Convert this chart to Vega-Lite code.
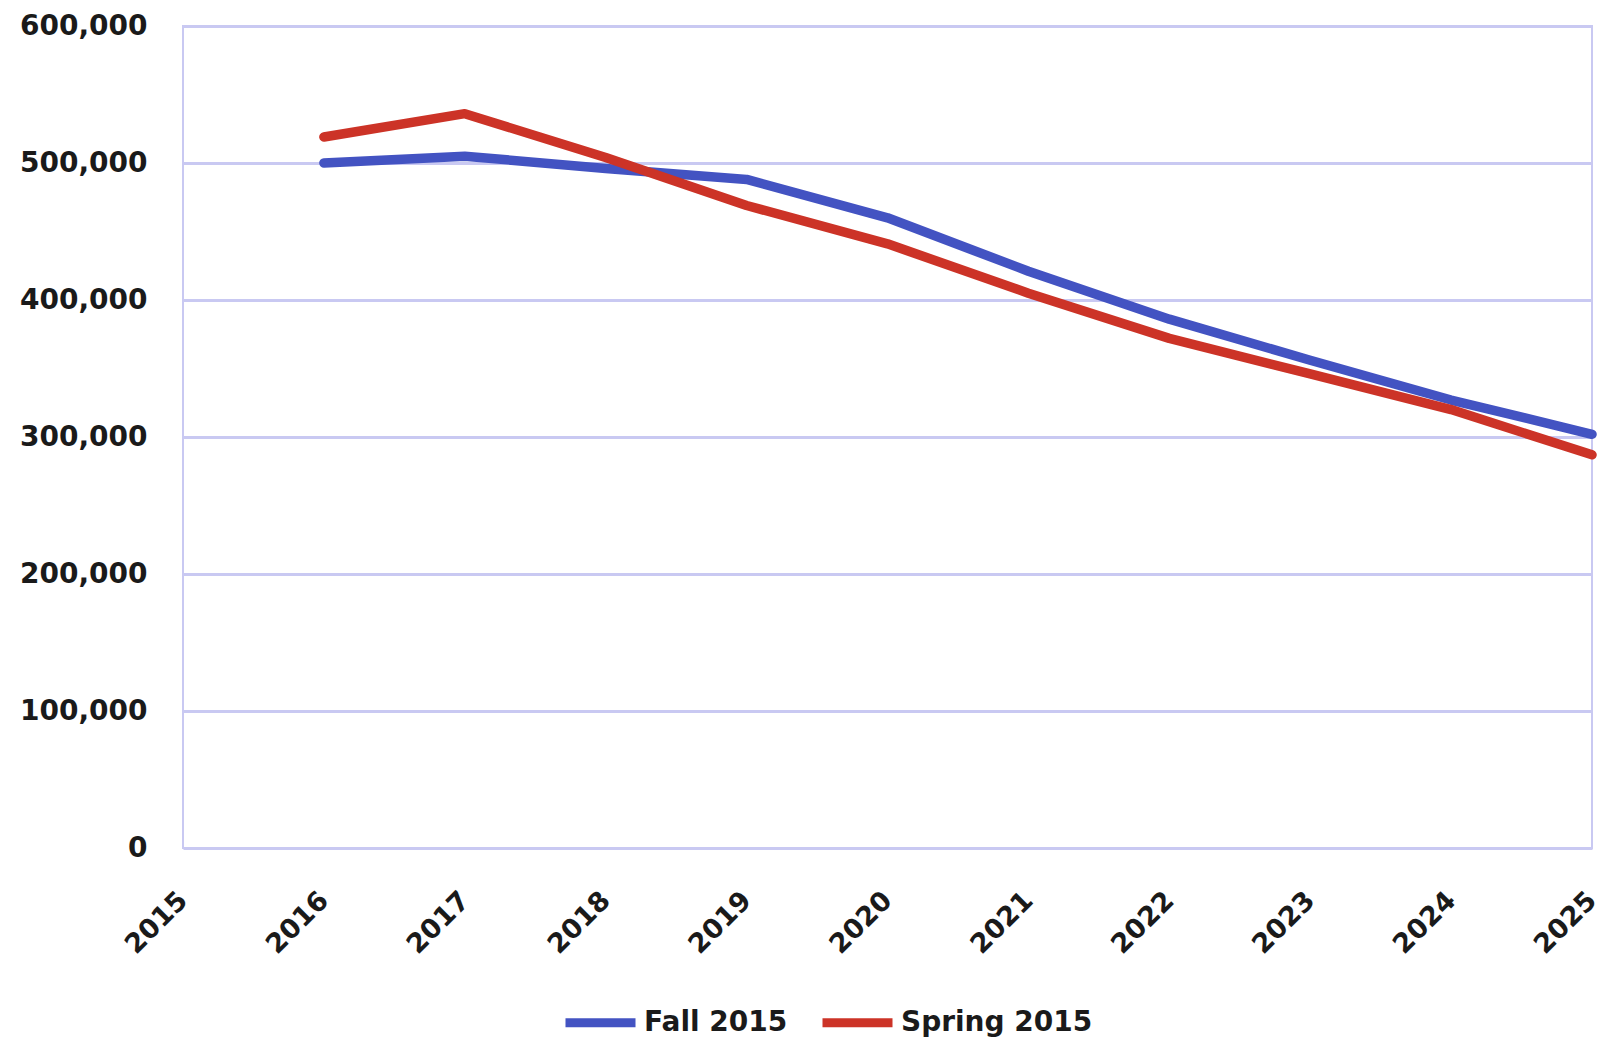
{
  "$schema": "https://vega.github.io/schema/vega-lite/v6.json",
  "autosize": {"type": "none"},
  "width": 1409,
  "height": 822,
  "padding": {"left": 183, "top": 26, "right": 12, "bottom": 194},
  "background": "white",
  "config": {
    "view": {"stroke": "#c9c9f2", "strokeWidth": 2},
    "font": "DejaVu Sans"
  },
  "data": {
    "values": [
      {"year": 2016, "series": "Fall 2015", "value": 500000},
      {"year": 2017, "series": "Fall 2015", "value": 505000},
      {"year": 2018, "series": "Fall 2015", "value": 496000},
      {"year": 2019, "series": "Fall 2015", "value": 488000},
      {"year": 2020, "series": "Fall 2015", "value": 460000},
      {"year": 2021, "series": "Fall 2015", "value": 421000},
      {"year": 2022, "series": "Fall 2015", "value": 386000},
      {"year": 2023, "series": "Fall 2015", "value": 356000},
      {"year": 2024, "series": "Fall 2015", "value": 327000},
      {"year": 2025, "series": "Fall 2015", "value": 302000},
      {"year": 2016, "series": "Spring 2015", "value": 519000},
      {"year": 2017, "series": "Spring 2015", "value": 536000},
      {"year": 2018, "series": "Spring 2015", "value": 504000},
      {"year": 2019, "series": "Spring 2015", "value": 469000},
      {"year": 2020, "series": "Spring 2015", "value": 441000},
      {"year": 2021, "series": "Spring 2015", "value": 405000},
      {"year": 2022, "series": "Spring 2015", "value": 372000},
      {"year": 2023, "series": "Spring 2015", "value": 346000},
      {"year": 2024, "series": "Spring 2015", "value": 320000},
      {"year": 2025, "series": "Spring 2015", "value": 287000}
    ]
  },
  "mark": {"type": "line", "strokeWidth": 9.5, "strokeCap": "round", "strokeJoin": "round", "clip": false},
  "encoding": {
    "x": {
      "field": "year",
      "type": "quantitative",
      "scale": {"domain": [2015, 2025], "nice": false, "zero": false},
      "axis": {
        "title": null,
        "values": [2015, 2016, 2017, 2018, 2019, 2020, 2021, 2022, 2023, 2024, 2025],
        "format": "d",
        "grid": false,
        "domain": false,
        "ticks": false,
        "labelAngle": -45,
        "labelAlign": "right",
        "labelBaseline": "middle",
        "labelPadding": 48,
        "labelFontSize": 27,
        "labelFontWeight": "bold",
        "labelColor": "#1a1a1a",
        "labelFont": "DejaVu Sans",
        "labelOverlap": false,
        "labelBound": false
      }
    },
    "y": {
      "field": "value",
      "type": "quantitative",
      "scale": {"domain": [0, 600000], "nice": false},
      "axis": {
        "title": null,
        "values": [0, 100000, 200000, 300000, 400000, 500000, 600000],
        "format": ",d",
        "domain": false,
        "ticks": false,
        "grid": true,
        "gridColor": "#c9c9f2",
        "gridWidth": 3,
        "labelPadding": 36,
        "labelFontSize": 28,
        "labelFontWeight": "bold",
        "labelColor": "#1a1a1a",
        "labelFont": "DejaVu Sans",
        "labelBound": false,
        "labelFlush": false
      }
    },
    "color": {
      "field": "series",
      "type": "nominal",
      "scale": {"domain": ["Fall 2015", "Spring 2015"], "range": ["#4353c2", "#cc3327"]},
      "legend": {
        "title": null,
        "orient": "none",
        "direction": "horizontal",
        "legendX": 378,
        "legendY": 957,
        "symbolType": "stroke",
        "symbolSize": 4900,
        "symbolStrokeWidth": 9,
        "labelFontSize": 28,
        "labelFontWeight": "bold",
        "labelColor": "#1a1a1a",
        "labelFont": "DejaVu Sans",
        "labelOffset": 4,
        "columnPadding": 16,
        "labelLimit": 400
      }
    }
  }
}
